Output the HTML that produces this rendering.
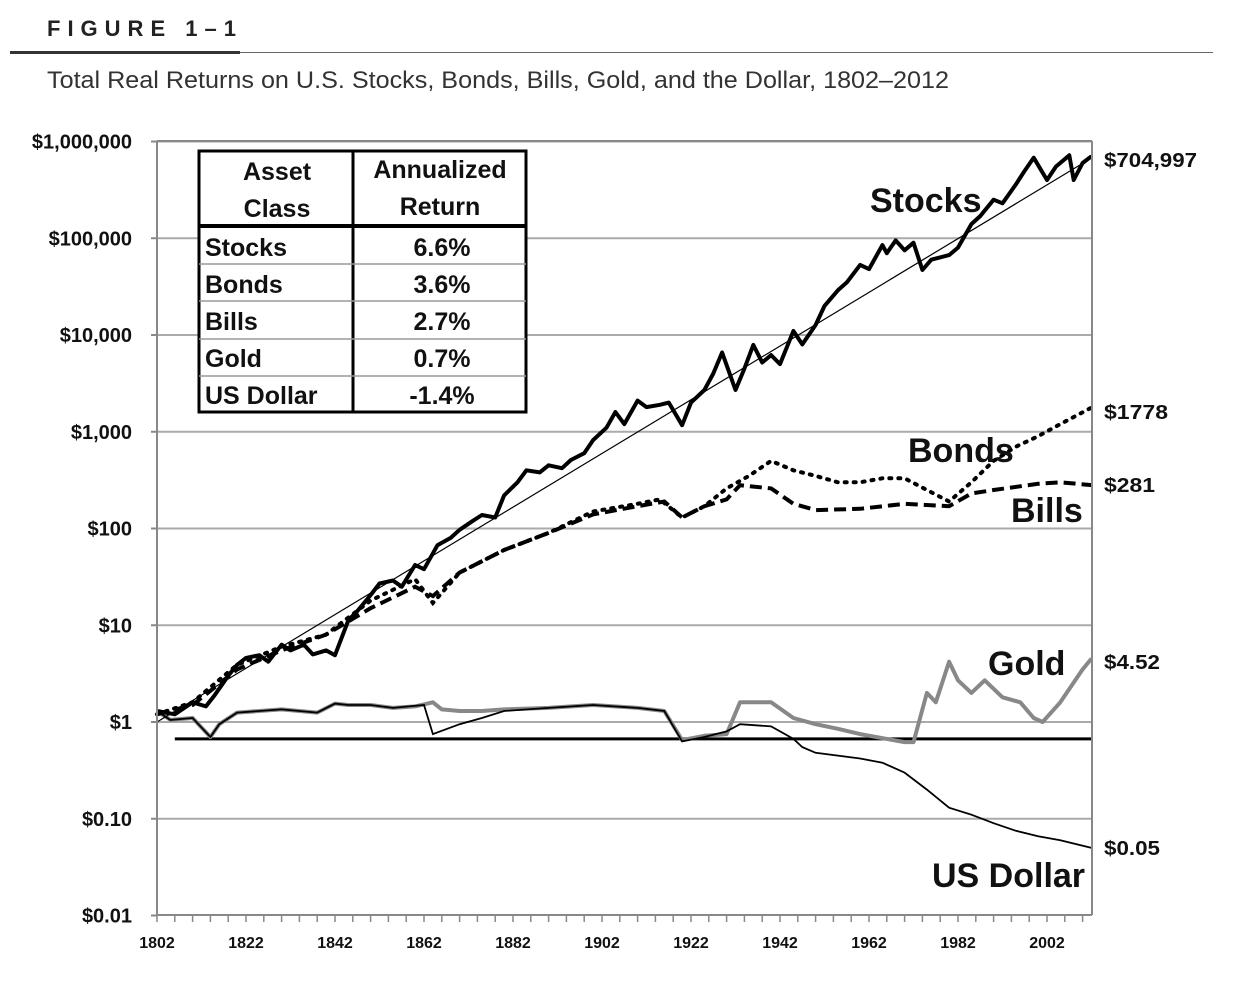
<!DOCTYPE html>
<html><head><meta charset="utf-8"><style>
html,body{margin:0;padding:0;background:#fff;}
svg{display:block;font-family:"Liberation Sans",sans-serif;}
</style></head><body>
<svg id="chart" width="1249" height="990" viewBox="0 0 1249 990" xmlns="http://www.w3.org/2000/svg">
<text x="47" y="36" font-size="22" font-weight="bold" letter-spacing="7" fill="#222">FIGURE 1–1</text>
<rect x="10" y="51" width="230" height="3" fill="#333"/>
<rect x="240" y="52" width="973" height="1" fill="#666"/>
<text x="47" y="88" font-size="24" fill="#333" textLength="902" lengthAdjust="spacingAndGlyphs">Total Real Returns on U.S. Stocks, Bonds, Bills, Gold, and the Dollar, 1802–2012</text>
<g id="grid"></g>
<g id="series"></g>
<g id="axes"></g>
<g id="table">
<rect x="199" y="151" width="327" height="261" fill="#fff" stroke="#000" stroke-width="3"/>
<line x1="353" y1="151" x2="353" y2="412" stroke="#000" stroke-width="3"/>
<line x1="199" y1="226" x2="526" y2="226" stroke="#000" stroke-width="4"/>
<line x1="199" y1="264" x2="526" y2="264" stroke="#999" stroke-width="1.5"/>
<line x1="199" y1="301" x2="526" y2="301" stroke="#999" stroke-width="1.5"/>
<line x1="199" y1="339" x2="526" y2="339" stroke="#999" stroke-width="1.5"/>
<line x1="199" y1="376" x2="526" y2="376" stroke="#999" stroke-width="1.5"/>
<g font-size="25" font-weight="bold" fill="#111">
<text x="277" y="180" text-anchor="middle">Asset</text>
<text x="277" y="217" text-anchor="middle">Class</text>
<text x="440" y="178" text-anchor="middle">Annualized</text>
<text x="440" y="215" text-anchor="middle">Return</text>
<text x="205" y="256">Stocks</text>
<text x="205" y="293">Bonds</text>
<text x="205" y="330">Bills</text>
<text x="205" y="367">Gold</text>
<text x="205" y="404">US Dollar</text>
<text x="442" y="256" text-anchor="middle">6.6%</text>
<text x="442" y="293" text-anchor="middle">3.6%</text>
<text x="442" y="330" text-anchor="middle">2.7%</text>
<text x="442" y="367" text-anchor="middle">0.7%</text>
<text x="442" y="404" text-anchor="middle">-1.4%</text>
</g></g>
<g font-weight="bold" fill="#111">
<text x="870" y="212" font-size="34">Stocks</text>
<text x="908" y="462" font-size="34">Bonds</text>
<text x="1011" y="522" font-size="34">Bills</text>
<text x="988" y="675" font-size="34">Gold</text>
<text x="932" y="887" font-size="34">US Dollar</text>
<g font-size="20">
<text x="1104" y="167" textLength="93" lengthAdjust="spacingAndGlyphs">$704,997</text>
<text x="1104" y="419" textLength="64" lengthAdjust="spacingAndGlyphs">$1778</text>
<text x="1104" y="492" textLength="51" lengthAdjust="spacingAndGlyphs">$281</text>
<text x="1104" y="669" textLength="56" lengthAdjust="spacingAndGlyphs">$4.52</text>
<text x="1104" y="855" textLength="56" lengthAdjust="spacingAndGlyphs">$0.05</text>
</g></g>
</svg>
<script>
const yTickValues = [1000000,100000,10000,1000,100,10,1,0.1,0.01];
const yTickLabels = ["$1,000,000","$100,000","$10,000","$1,000","$100","$10","$1","$0.10","$0.01"];
const xTickLabels = [1802,1822,1842,1862,1882,1902,1922,1942,1962,1982,2002];
const trendRate = 0.066;
const baselineValue = 0.67;
const stocksYears = [1802,1806,1810,1813,1815,1818,1820,1822,1825,1827,1830,1832,1835,1837,1840,1842,1845,1847,1850,1852,1855,1857,1860,1862,1865,1868,1870,1873,1875,1878,1880,1883,1885,1888,1890,1893,1895,1898,1900,1903,1905,1907,1910,1912,1915,1917,1920,1922,1925,1927,1929,1932,1934,1936,1938,1940,1942,1945,1947,1950,1952,1955,1957,1960,1962,1965,1966,1968,1970,1972,1974,1976,1980,1982,1985,1987,1990,1992,1995,1997,1999,2002,2004,2007,2008,2010,2012];
const stocksValues = [1.3,1.2,1.6,1.45,1.9,3,3.9,4.6,4.9,4.2,6.3,5.5,6.3,5,5.5,4.9,11.3,14,20.5,27,29,25,42,38,67,80,97,120,138,130,220,300,400,380,450,420,510,600,820,1100,1600,1200,2100,1800,1900,2000,1170,2000,2700,4000,6600,2700,4500,7900,5200,6200,5000,11000,8000,12700,20000,29000,35000,53000,48000,85000,70000,95000,75000,90000,47000,60000,67000,80000,140000,170000,250000,230000,360000,500000,680000,400000,550000,720000,400000,600000,704997];
const bondsYears = [1802,1810,1820,1830,1840,1850,1860,1864,1870,1880,1890,1900,1910,1915,1920,1925,1930,1935,1940,1945,1950,1955,1960,1965,1970,1975,1980,1985,1990,1995,2000,2005,2012];
const bondsValues = [1.2,1.6,3.9,6,8,18,30,17,35,60,90,150,180,200,130,170,260,350,500,400,350,300,300,330,330,250,190,300,500,700,900,1200,1778];
const billsYears = [1802,1810,1820,1830,1840,1850,1860,1864,1870,1880,1890,1900,1910,1916,1920,1925,1930,1933,1940,1945,1950,1960,1970,1980,1985,1990,2000,2005,2012];
const billsValues = [1.2,1.5,3.5,5.5,8,15,25,20,35,60,90,140,170,190,130,170,200,280,260,180,155,160,180,170,230,250,290,300,281];
const goldYears = [1802,1805,1810,1814,1816,1820,1830,1838,1842,1845,1850,1855,1860,1864,1866,1870,1875,1880,1890,1900,1910,1916,1920,1925,1930,1933,1940,1945,1950,1955,1960,1970,1972,1975,1977,1980,1982,1985,1988,1992,1996,1999,2001,2005,2010,2012];
const goldValues = [1.3,1.05,1.1,0.7,0.95,1.25,1.35,1.25,1.55,1.5,1.5,1.4,1.45,1.6,1.35,1.3,1.3,1.35,1.4,1.5,1.4,1.3,0.65,0.72,0.75,1.6,1.6,1.1,0.95,0.85,0.75,0.62,0.62,2.0,1.6,4.2,2.7,2.0,2.7,1.8,1.6,1.1,1.0,1.6,3.5,4.52];
const dollarYears = [1802,1805,1810,1814,1816,1820,1830,1838,1842,1845,1850,1855,1862,1864,1870,1875,1880,1890,1900,1910,1916,1920,1925,1930,1933,1940,1945,1947,1950,1955,1960,1965,1970,1975,1980,1985,1990,1995,2000,2005,2012];
const dollarValues = [1.3,1.05,1.1,0.7,0.95,1.25,1.35,1.25,1.55,1.5,1.5,1.4,1.5,0.75,0.95,1.1,1.3,1.4,1.5,1.4,1.3,0.63,0.7,0.8,0.95,0.9,0.67,0.55,0.48,0.45,0.42,0.38,0.3,0.2,0.13,0.11,0.09,0.075,0.066,0.06,0.05];

const NS="http://www.w3.org/2000/svg";
const X0=157, PXY=4.45, Y1=722, PXD=96.75;
function xScale(yr){return X0+(yr-1802)*PXY;}
function yScale(v){return Y1-Math.log10(v)*PXD;}
function mk(tag,attrs,parent){const e=document.createElementNS(NS,tag);for(const k in attrs)e.setAttribute(k,attrs[k]);parent.appendChild(e);return e;}
const grid=document.getElementById('grid'), axes=document.getElementById('axes'), series=document.getElementById('series');
yTickValues.forEach((v,i)=>{
  const y=yScale(v);
  if(i<yTickValues.length-1){const l=mk('line',{x1:X0,x2:1092,y1:y,y2:y,stroke:'#aaa','stroke-width':2},grid);
  
  }
  mk('line',{x1:X0-6,x2:X0,y1:y,y2:y,stroke:'#888','stroke-width':2},axes);
  const t=mk('text',{x:132,y:y+7,'text-anchor':'end','font-size':20,'font-weight':'bold',fill:'#111'},axes);
  t.textContent=yTickLabels[i];
  
  
});
mk('line',{x1:X0,x2:1092,y1:141,y2:141,stroke:'#888','stroke-width':2},axes);
mk('line',{x1:1092,x2:1092,y1:141,y2:915,stroke:'#888','stroke-width':2},axes);
mk('line',{x1:X0,x2:X0,y1:141,y2:915,stroke:'#888','stroke-width':2},axes);
mk('line',{x1:X0,x2:1092,y1:915,y2:915,stroke:'#888','stroke-width':2},axes);
for(let yr=1802;yr<=2012;yr+=4){const x=xScale(yr);mk('line',{x1:x,x2:x,y1:915,y2:922,stroke:'#888','stroke-width':1.5},axes);}
xTickLabels.forEach(yr=>{
  const t=mk('text',{x:xScale(yr),y:948,'text-anchor':'middle','font-size':16,'font-weight':'bold',fill:'#111'},axes);
  t.textContent=yr;
  
  
});
function path(years,vals){return years.map((yr,i)=>(i?'L':'M')+xScale(yr).toFixed(1)+','+yScale(vals[i]).toFixed(1)).join(' ');}
const bl=mk('line',{x1:xScale(1806),x2:1092,y1:yScale(baselineValue),y2:yScale(baselineValue),stroke:'#000','stroke-width':3},series);


const g=mk('path',{d:path(goldYears,goldValues),fill:'none',stroke:'#888','stroke-width':4,'stroke-linejoin':'round'},series);


const d=mk('path',{d:path(dollarYears,dollarValues),fill:'none',stroke:'#000','stroke-width':1.8},series);


const bi=mk('path',{d:path(billsYears,billsValues),fill:'none',stroke:'#000','stroke-width':4,'stroke-dasharray':'12,6'},series);


const bo=mk('path',{d:path(bondsYears,bondsValues),fill:'none',stroke:'#000','stroke-width':4,'stroke-dasharray':'2,7','stroke-linecap':'round'},series);


const tr=mk('line',{x1:xScale(1802),y1:yScale(1),x2:1092,y2:yScale(Math.pow(1+trendRate,(1092-X0)/PXY)),stroke:'#000','stroke-width':1.2},series);


const s=mk('path',{d:path(stocksYears,stocksValues),fill:'none',stroke:'#000','stroke-width':4,'stroke-linejoin':'round'},series);


</script>
</body></html>
